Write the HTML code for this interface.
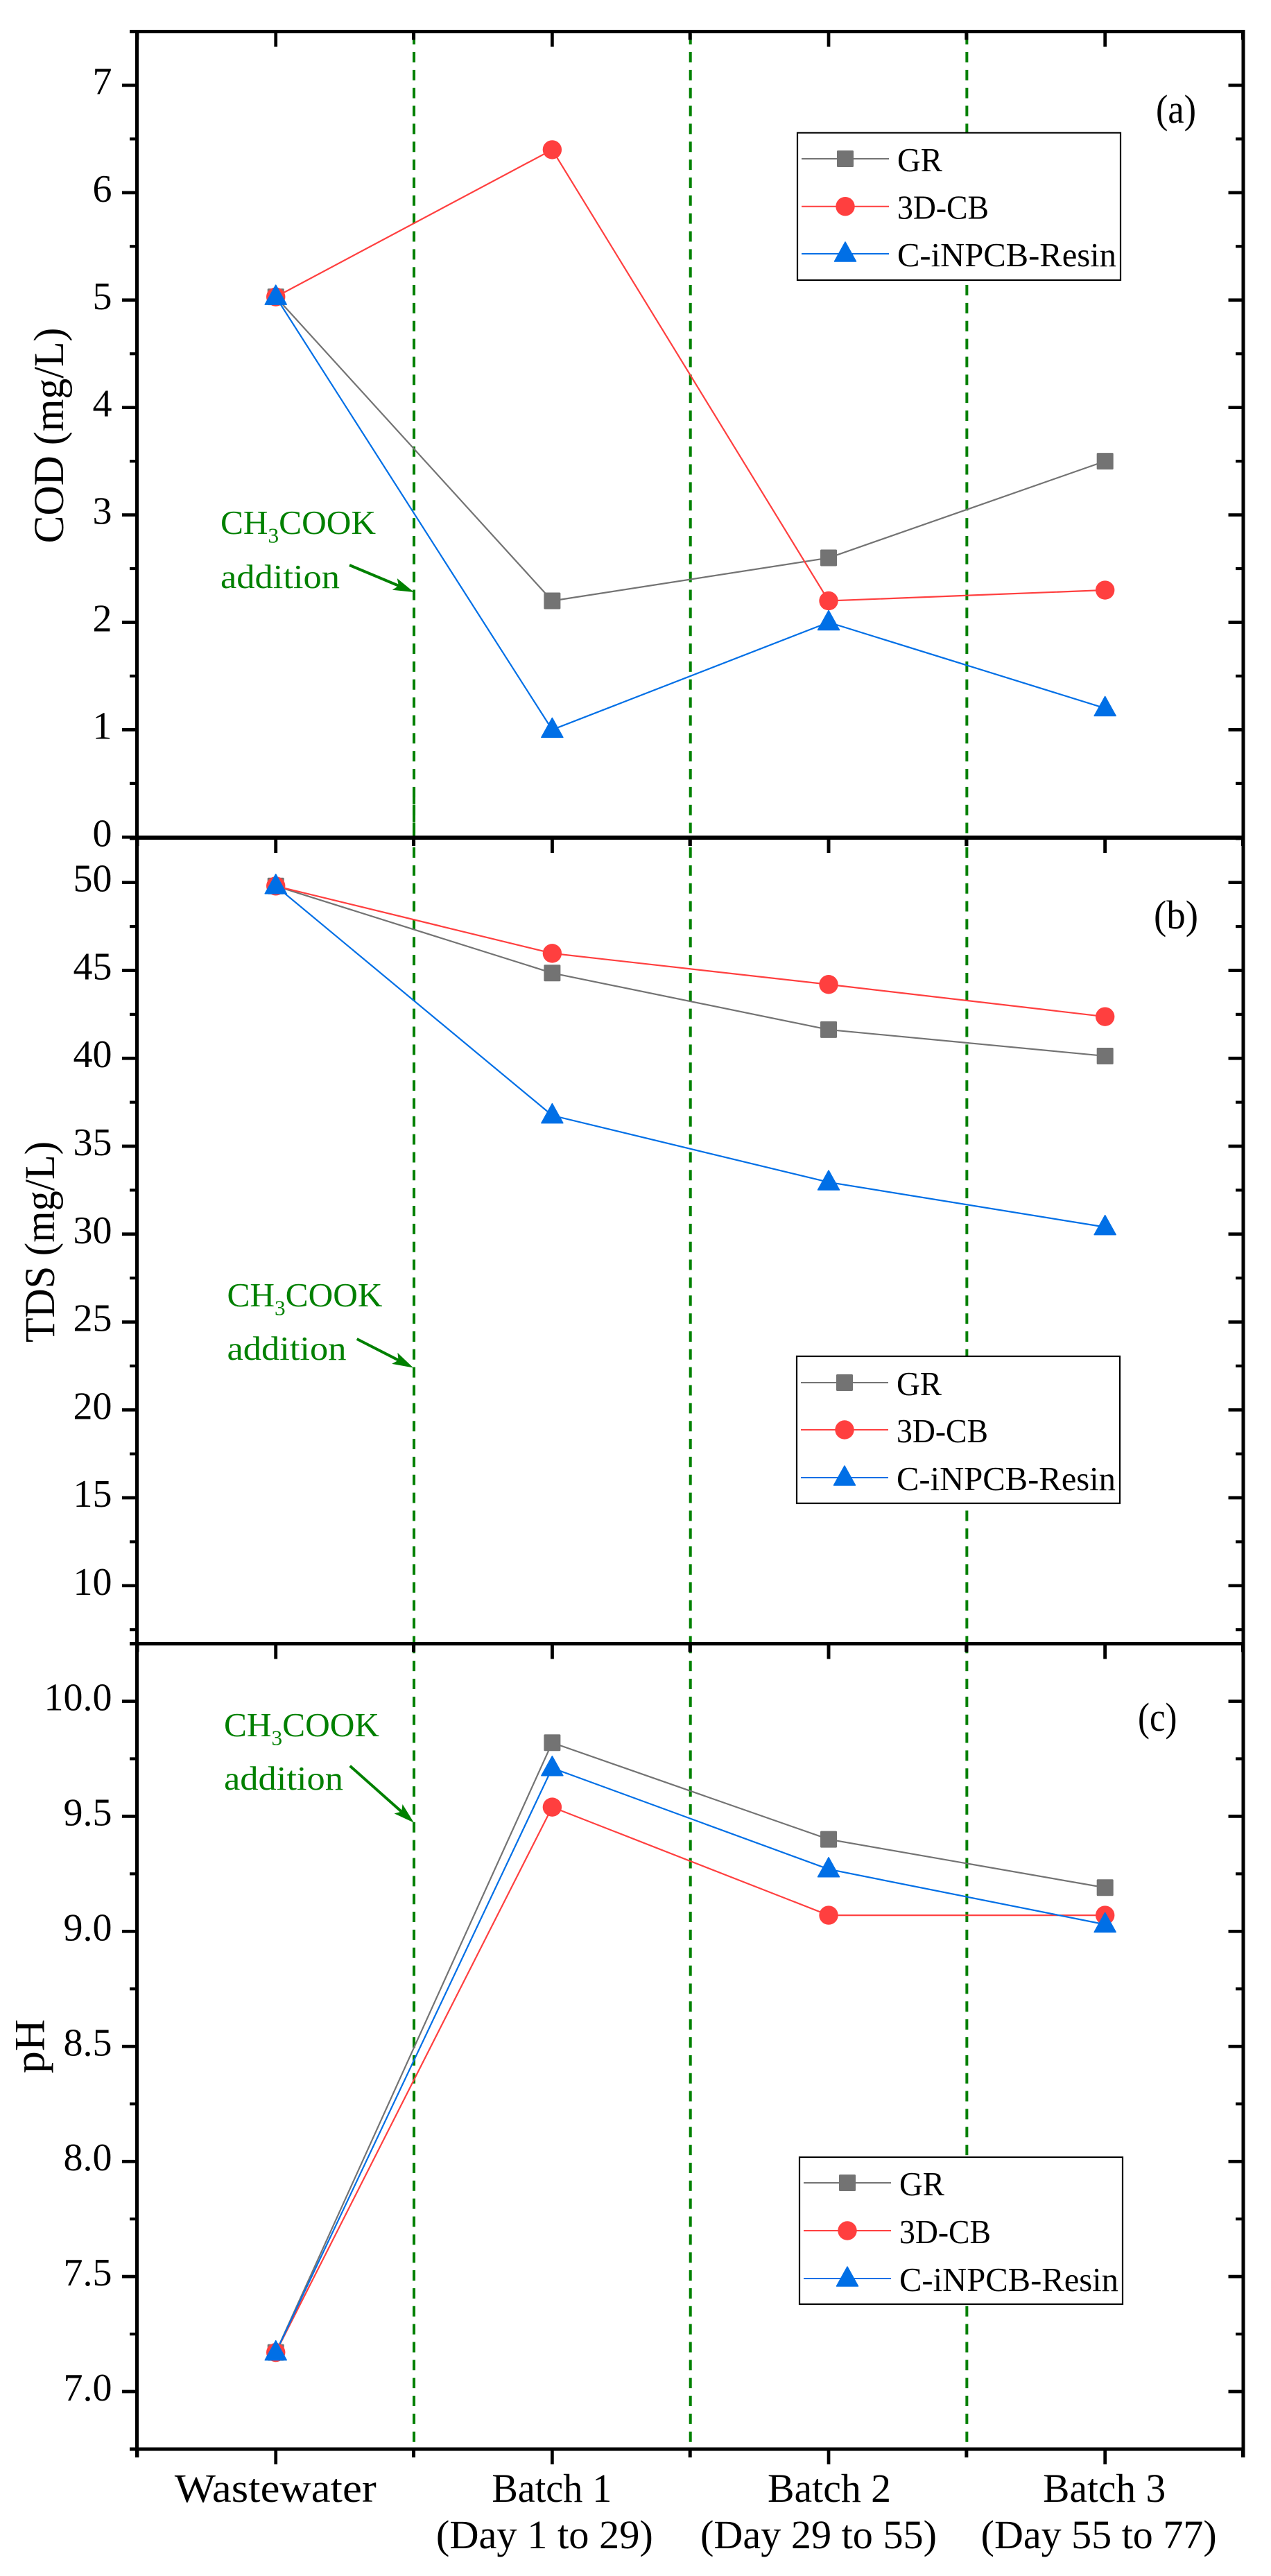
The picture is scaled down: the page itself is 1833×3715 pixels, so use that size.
<!DOCTYPE html>
<html lang="en">
<head>
<meta charset="utf-8">
<title>COD, TDS and pH across batches</title>
<style>
html,body{margin:0;padding:0;background:#fff;}
svg{display:block;font-family:"Liberation Serif","Noto Serif CJK SC",serif;}
</style>
</head>
<body>
<svg id="chart" xmlns="http://www.w3.org/2000/svg" width="1833" height="3715" viewBox="0 0 1833 3715">
  <rect x="0" y="0" width="1833" height="3715" fill="#ffffff"/>
</svg>
<script>
// ---- data ----
const categories = ['Wastewater', 'Batch 1', 'Batch 2', 'Batch 3'];
const categoryRanges = ['', '(Day 1 to 29)', '(Day 29 to 55)', '(Day 55 to 77)'];
const seriesNames = ['GR', '3D-CB', 'C-iNPCB-Resin'];
const seriesColors = ['#737373', '#ff3f3f', '#006fe6'];

const codGR = [5.03, 2.2, 2.6, 3.5];
const cod3DCB = [5.03, 6.4, 2.2, 2.3];
const codResin = [5.03, 1.0, 2.0, 1.2];
const codTicks = [0, 1, 2, 3, 4, 5, 6, 7];
const codTickLabels = ['0', '1', '2', '3', '4', '5', '6', '7'];

const tdsGR = [49.8, 44.85, 41.63, 40.13];
const tds3DCB = [49.8, 45.97, 44.2, 42.37];
const tdsResin = [49.8, 36.75, 32.95, 30.4];
const tdsTicks = [10, 15, 20, 25, 30, 35, 40, 45, 50];
const tdsTickLabels = ['10', '15', '20', '25', '30', '35', '40', '45', '50'];

const phGR = [7.17, 9.82, 9.4, 9.19];
const ph3DCB = [7.17, 9.54, 9.07, 9.07];
const phResin = [7.17, 9.71, 9.27, 9.03];
const phTicks = [7, 7.5, 8, 8.5, 9, 9.5, 10];
const phTickLabels = ['7.0', '7.5', '8.0', '8.5', '9.0', '9.5', '10.0'];

// ---- helpers ----
const SVGNS = 'http://www.w3.org/2000/svg';
const svg = document.getElementById('chart');
const GREEN = '#008000';
const LEFT = 198.4, RIGHT = 1793;
const SPINE_LEFT = 197.5;

function make(tag, attrs, parent) {
  const n = document.createElementNS(SVGNS, tag);
  for (const k in attrs) n.setAttribute(k, attrs[k]);
  (parent || svg).appendChild(n);
  return n;
}
// x axis: categories sit at 1..4 on a 0.5..4.5 domain
function xScale(pos) {
  return LEFT + (pos - 0.5) / 4 * (RIGHT - LEFT);
}
function yScaleFor(domainLow, domainHigh, top, bottom) {
  return function (v) {
    return bottom - (v - domainLow) / (domainHigh - domainLow) * (bottom - top);
  };
}
function drawMarker(kind, cx, cy, color, group) {
  let m;
  if (kind === 0) {
    m = make('rect', {x: cx - 12, y: cy - 12, width: 24, height: 24, rx: 1.5, fill: color}, group);
  } else if (kind === 1) {
    m = make('circle', {cx: cx, cy: cy, r: 13.7, fill: color}, group);
  } else {
    m = make('path', {d: 'M' + cx + ' ' + (cy - 17) + 'L' + (cx + 15.5) + ' ' + (cy + 11) + 'L' + (cx - 15.5) + ' ' + (cy + 11) + 'Z', fill: color, stroke: color, 'stroke-width': 1.5, 'stroke-linejoin': 'round'}, group);
  }
  
  
  return m;
}

function drawPanel(p) {
  const g = make('g', {});
  
  
  const y = yScaleFor(p.low, p.high, p.top, p.bottom);

  // vertical dashed separators
  [1.5, 2.5, 3.5].forEach(function (pos) {
    const sep = make('line', {x1: xScale(pos), x2: xScale(pos), y1: p.dashStart, y2: p.dashEnd, stroke: GREEN, 'stroke-width': 4, 'stroke-dasharray': '15 10.85'}, g);
    
    
  });
  if (p.id === 'cod') {
    const overlap = make('line', {x1: xScale(1.5), x2: xScale(1.5), y1: 1135, y2: 1211, stroke: GREEN, 'stroke-width': 4, 'stroke-dasharray': '25 .85'}, g);
    
    
  }

  // series lines + markers
  p.series.forEach(function (values, s) {
    const d = values.map(function (v, i) {
      return (i ? 'L' : 'M') + xScale(i + 1).toFixed(2) + ' ' + y(v).toFixed(2);
    }).join('');
    const line = make('path', {d: d, fill: 'none', stroke: seriesColors[s], 'stroke-width': 2.2}, g);
    
    
  });
  p.series.forEach(function (values, s) {
    values.forEach(function (v, i) {
      drawMarker(s, xScale(i + 1), y(v), seriesColors[s], g);
    });
  });

  // y ticks and labels
  const step = p.ticks[1] - p.ticks[0];
  p.ticks.forEach(function (t, i) {
    const ty = y(t);
    const left = make('line', {x1: 176, x2: SPINE_LEFT, y1: ty, y2: ty, stroke: '#000', 'stroke-width': 4.7}, g);
    
    
    const right = make('line', {x1: RIGHT - 21.5, x2: RIGHT, y1: ty, y2: ty, stroke: '#000', 'stroke-width': 4.7}, g);
    
    
    const label = make('text', {x: 161.5, y: ty + 13, 'text-anchor': 'end', 'font-size': 56, fill: '#000'}, g);
    
    
    label.textContent = p.tickLabels[i];
  });
  for (let t = p.ticks[0] - step / 2; t <= p.high + 1e-6; t += step) {
    if (t < p.low - 1e-6) continue;
    const onMajor = p.ticks.some(function (m) { return Math.abs(m - t) < 1e-6; });
    if (onMajor) continue;
    const ty = y(t);
    const ml = make('line', {x1: 187, x2: SPINE_LEFT, y1: ty, y2: ty, stroke: '#000', 'stroke-width': 4.2}, g);
    
    
    const mr = make('line', {x1: RIGHT - 11, x2: RIGHT, y1: ty, y2: ty, stroke: '#000', 'stroke-width': 4.2}, g);
    
    
  }

  // horizontal rules of the panel and ticks hanging from them
  [p.top, p.bottom].forEach(function (ly) {
    const isJoinAB = Math.abs(ly - 1207.3) < 0.01;
    const ry = isJoinAB ? 1208 : ly;
    const rule = make('line', {x1: 187, x2: RIGHT + 2.5, y1: ry, y2: ry, stroke: '#000', 'stroke-width': isJoinAB ? 6 : 5}, g);
    
    
    [1, 2, 3, 4].forEach(function (pos) {
      const tk = make('line', {x1: xScale(pos), x2: xScale(pos), y1: ry, y2: ry + 22, stroke: '#000', 'stroke-width': 4.7}, g);
      
      
    });
    [0.5, 1.5, 2.5, 3.5, 4.5].forEach(function (pos) {
      const mk = make('line', {x1: xScale(pos) - 0.5, x2: xScale(pos) - 0.5, y1: ry, y2: ry + 12, stroke: '#000', 'stroke-width': 5}, g);
      
      
    });
  });

  // redraw separators' first dashes over their ticks is unnecessary; axis title
  const title = make('text', {x: p.titleX, y: p.titleY, 'text-anchor': 'middle', 'font-size': 61, fill: '#000', textLength: p.titleLen, lengthAdjust: 'spacingAndGlyphs', transform: 'rotate(-90 ' + p.titleX + ' ' + p.titleY + ')'}, g);
  
  
  title.textContent = p.title;

  // panel letter
  const letter = make('text', {x: p.letterX, y: p.letterY, 'font-size': 58, fill: '#000', textLength: p.letterLen, lengthAdjust: 'spacingAndGlyphs'}, g);
  
  
  letter.textContent = p.letter;

  // annotation
  const a = p.note;
  const note = make('text', {x: a.x, y: a.y1, 'font-size': 49, fill: GREEN, textLength: 224, lengthAdjust: 'spacingAndGlyphs'}, g);
  
  
  const t1 = make('tspan', {}, note);
  t1.textContent = 'CH';
  const t2 = make('tspan', {dy: 12.5, 'font-size': 31}, note);
  t2.textContent = '3';
  const t3 = make('tspan', {dy: -12.5}, note);
  t3.textContent = 'COOK';
  const note2 = make('text', {x: a.x, y: a.y2, 'font-size': 49, fill: GREEN, textLength: 172, lengthAdjust: 'spacingAndGlyphs'}, g);
  
  
  note2.textContent = 'addition';

  const dx = a.x2 - a.x1, dy = a.y4 - a.y3, len = Math.hypot(dx, dy), ux = dx / len, uy = dy / len;
  const shaft = make('line', {x1: a.x1, y1: a.y3, x2: a.x2 - ux * 20, y2: a.y4 - uy * 20, stroke: GREEN, 'stroke-width': 4}, g);
  
  
  const bx = a.x2 - ux * 30, by = a.y4 - uy * 30, nx = -uy, ny = ux;
  const head = make('path', {d: 'M' + a.x2 + ' ' + a.y4 + 'L' + (bx + nx * 9) + ' ' + (by + ny * 9) + 'L' + (a.x2 - ux * 24) + ' ' + (a.y4 - uy * 24) + 'L' + (bx - nx * 9) + ' ' + (by - ny * 9) + 'Z', fill: GREEN}, g);
  
  

  // legend
  const L = p.legend;
  const lg = make('g', {}, g);
  
  
  const box = make('rect', {x: L.x, y: L.y, width: 466, height: L.h, fill: '#fff', stroke: '#000', 'stroke-width': 2.2}, lg);
  
  
  const textLens = [65, 132, 316];
  seriesNames.forEach(function (name, s) {
    const ly = L.rows[s];
    const sw = make('line', {x1: L.x + 6, x2: L.x + 132, y1: ly, y2: ly, stroke: seriesColors[s], 'stroke-width': 2}, lg);
    
    
    drawMarker(s, L.x + 69, ly, seriesColors[s], lg);
    const tx = make('text', {x: L.x + 144, y: ly + 18, 'font-size': 48.6, fill: '#000', textLength: textLens[s], lengthAdjust: 'spacingAndGlyphs'}, lg);
    
    
    tx.textContent = name;
  });
}

drawPanel({
  id: 'cod', low: 0, high: 7.5, top: 45.5, bottom: 1207.3, dashStart: 49.15, dashEnd: 1211,
  series: [codGR, cod3DCB, codResin], ticks: codTicks, tickLabels: codTickLabels,
  title: 'COD (mg/L)', titleX: 91, titleY: 628, titleLen: 311,
  letter: '(a)', letterX: 1667, letterY: 177, letterLen: 58,
  note: {x: 318, y1: 770, y2: 848, x1: 504, y3: 815, x2: 597, y4: 854},
  legend: {x: 1150, y: 191.5, h: 212.5, rows: [229, 297.7, 366]}
});
drawPanel({
  id: 'tds', low: 6.7, high: 52.58, top: 1207.3, bottom: 2370.5, dashStart: 1222, dashEnd: 2374.4,
  series: [tdsGR, tds3DCB, tdsResin], ticks: tdsTicks, tickLabels: tdsTickLabels,
  title: 'TDS (mg/L)', titleX: 78, titleY: 1791, titleLen: 290,
  letter: '(b)', letterX: 1664, letterY: 1339, letterLen: 64,
  note: {x: 327.5, y1: 1884, y2: 1961, x1: 514.7, y3: 1931, x2: 596, y4: 1972.5},
  legend: {x: 1149, y: 1956, h: 212, rows: [1994, 2062, 2131]}
});
drawPanel({
  id: 'ph', low: 6.75, high: 10.25, top: 2370.5, bottom: 3532, dashStart: 2369.3, dashEnd: 3532,
  series: [phGR, ph3DCB, phResin], ticks: phTicks, tickLabels: phTickLabels,
  title: 'pH', titleX: 63.5, titleY: 2951, titleLen: 78,
  letter: '(c)', letterX: 1641, letterY: 2496, letterLen: 56.5,
  note: {x: 323, y1: 2504, y2: 2581, x1: 504.7, y3: 2546.7, x2: 597, y4: 2628.6},
  legend: {x: 1153, y: 3111, h: 212, rows: [3148, 3217, 3286]}
});

// left and right spines
[SPINE_LEFT, RIGHT].forEach(function (sx) {
  const spine = make('line', {x1: sx, x2: sx, y1: 43, y2: 3544, stroke: '#000', 'stroke-width': 5});
  
  
});

// category labels
(function drawCategoryLabels() {
  const line1Len = [291, 173, 178, 177];
  const line2Len = [0, 313, 341, 340];
  const line1Shift = [-0.5, -0.5, 1, -1];
  const line2Shift = [0, -11, -14.5, -9];
  categories.forEach(function (name, i) {
    const cx = xScale(i + 1);
    const t = make('text', {x: cx + line1Shift[i], y: 3608, 'text-anchor': 'middle', 'font-size': 58, fill: '#000', textLength: line1Len[i], lengthAdjust: 'spacingAndGlyphs'});
    
    
    t.textContent = name;
    if (categoryRanges[i]) {
      const r = make('text', {x: cx + line2Shift[i], y: 3675, 'text-anchor': 'middle', 'font-size': 58, fill: '#000', textLength: line2Len[i], lengthAdjust: 'spacingAndGlyphs'});
      
      
      r.textContent = categoryRanges[i];
    }
  });
})();
</script>
</body>
</html>
